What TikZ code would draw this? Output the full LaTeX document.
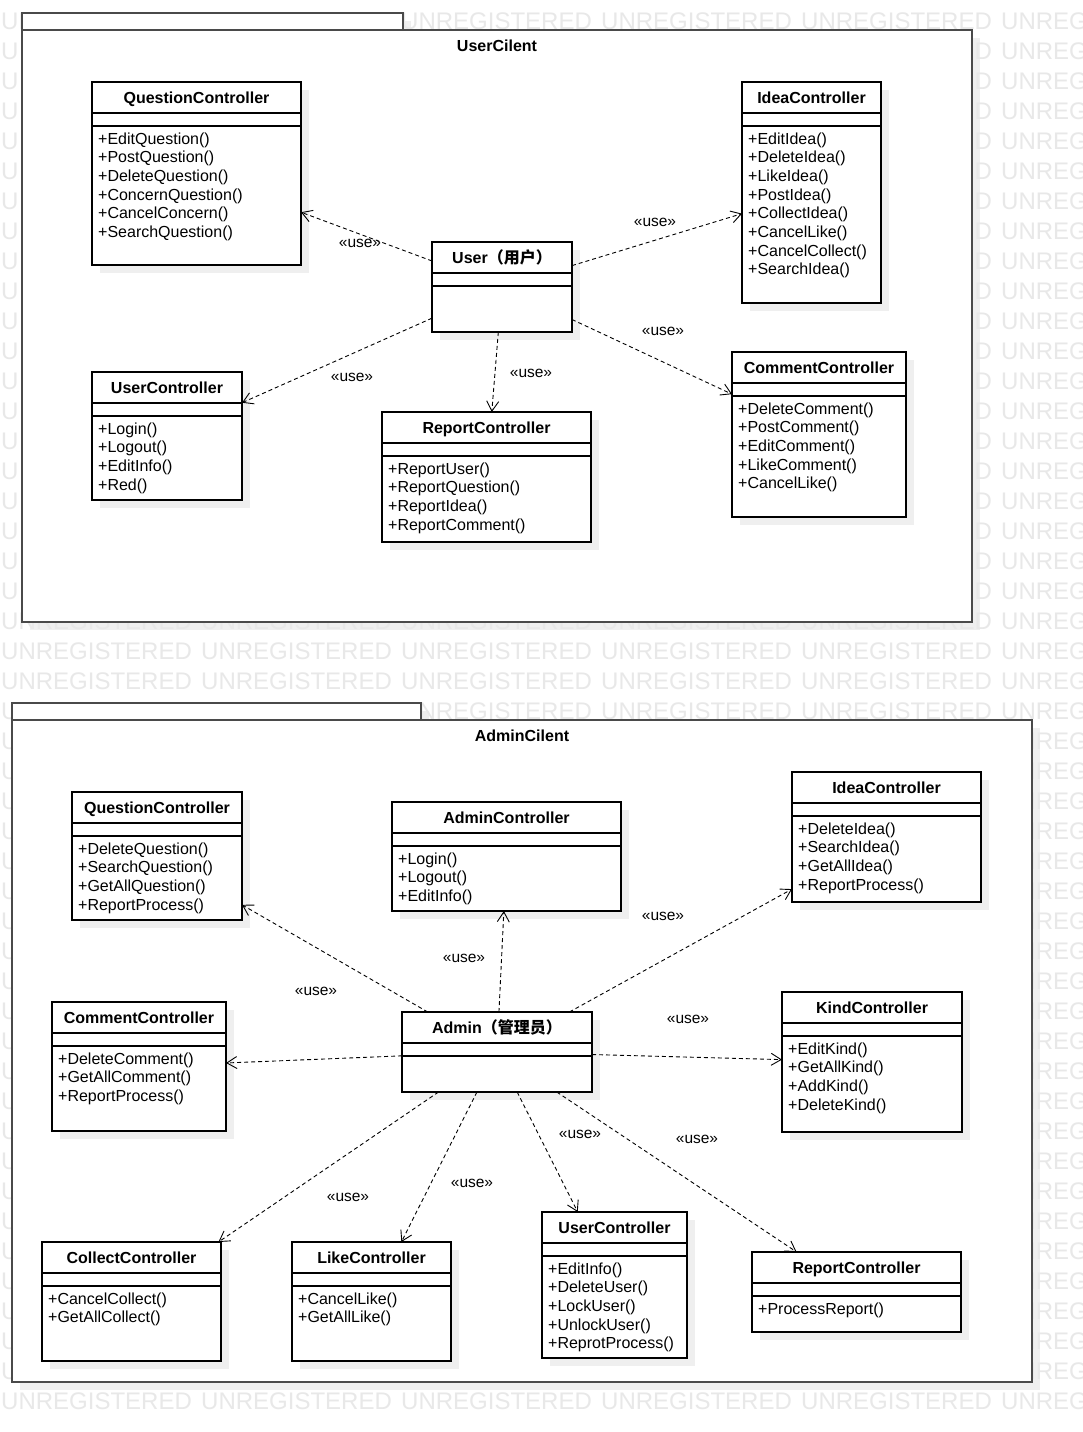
\documentclass[tikz,border=0pt]{standalone}
\usepackage{fontspec}
\setmainfont{Liberation Sans}
\newfontfamily\cjk{Noto Sans CJK SC}
\usetikzlibrary{arrows.meta}
\definecolor{wm}{HTML}{E8E8E8}
\definecolor{shd}{HTML}{EFEFEF}
\definecolor{pkg}{HTML}{4A4A4A}
\tikzset{
 cls/.style={draw=black, line width=1.2pt, fill=white, rectangle, inner sep=0pt, outer sep=0pt},
 ttl/.style={font=\fontsize{16}{19}\selectfont\bfseries, inner sep=0pt, anchor=base},
 mth/.style={font=\fontsize{16}{19}\selectfont, inner sep=0pt, anchor=base west},
 lbl/.style={font=\fontsize{15.5}{18}\selectfont, inner sep=0pt},
 dep/.style={draw=black, line width=0.9pt, dash pattern=on 4pt off 3pt, -{Straight Barb[length=10pt,width=12pt,line width=0.9pt]}},
 pkgline/.style={draw=pkg, line width=1.6pt, fill=white},
 wmtext/.style={text=wm, font=\fontsize{24}{24}\selectfont, inner sep=0pt, anchor=base west},
}
\newcommand\umlclass[7]{%
 \fill[shd] (#2+8,#3+8) rectangle ++(#4,#5);
 \node[cls, minimum width=#4, minimum height=#5, anchor=north west] (#1) at (#2,#3) {};
 \draw[line width=1.2pt] (#2,#3+31) -- ++(#4,0) (#2,#3+44) -- ++(#4,0);
 \node[ttl] (#1-t) at (#2+#4/2,#3+21.3) {#6};
 \foreach \m [count=\i from 0] in {#7} {\node[mth] (#1-m\i) at (#2+6,#3+62+18.7*\i) {\m};}
}
\newcommand\umlactor[6]{%
 \fill[shd] (#2+8,#3+8) rectangle ++(#4,#5);
 \node[cls, minimum width=#4, minimum height=#5, anchor=north west] (#1) at (#2,#3) {};
 \draw[line width=1.2pt] (#2,#3+31) -- ++(#4,0) (#2,#3+44) -- ++(#4,0);
 \node[ttl] (#1-t) at (#2+#4/2,#3+21.3) {#6};
}
\newcommand\wmrows[2]{%
 \foreach \r in {#1} {\foreach \c in {#2} {\node[wmtext] (wm-\r-\c) at (200*\c+1,29.5+30*\r) {UNREGISTERED};}}
}
\begin{document}
\begin{tikzpicture}[x=1pt,y=-1pt]
\useasboundingbox (0,0) rectangle (1082,1432);
\fill[white] (0,0) rectangle (1082,1432);
% package shadows
\fill[shd] (30,21) rectangle (411,38);
\fill[shd] (30,38) rectangle (980,630);
\fill[shd] (20,711) rectangle (429,728);
\fill[shd] (20,728) rectangle (1040,1390);
% watermark (only the parts that are not hidden behind the packages)
\begin{scope}
\clip (0,0) rectangle (1082,1432);
\wmrows{0}{0,2,3,4,5}
\foreach \r in {1,...,19} {
  \node[wmtext] (wmu-\r) at (1,29.5+30*\r) {U};
  \node[wmtext] (wmd-\r) at (974.4,29.5+30*\r) {D};
}
\wmrows{1,...,19}{5}
\wmrows{20,21,22}{0,1,2,3,4,5}
\wmrows{23}{0,2,3,4,5}
\foreach \r in {24,...,45} {\node[wmtext] (wmu-\r) at (1,29.5+30*\r) {U};}
\wmrows{24,...,45}{5}
\wmrows{46}{0,1,2,3,4,5}
\end{scope}
% packages
\draw[pkgline] (22,13) rectangle (403,30);
\draw[pkgline] (22,30) rectangle (972,622);
\node[ttl] (pkgU) at (497,51.7) {UserCilent};
\draw[pkgline] (12,703) rectangle (421,720);
\draw[pkgline] (12,720) rectangle (1032,1382);
\node[ttl] (pkgA) at (522,741.7) {AdminCilent};
% top classes
\umlclass{qc1}{92}{82}{209}{183}{QuestionController}{+EditQuestion(),+PostQuestion(),+DeleteQuestion(),+ConcernQuestion(),+CancelConcern(),+SearchQuestion()}
\umlclass{ic1}{742}{82}{139}{221}{IdeaController}{+EditIdea(),+DeleteIdea(),+LikeIdea(),+PostIdea(),+CollectIdea(),+CancelLike(),+CancelCollect(),+SearchIdea()}
\umlactor{user}{432}{242}{140}{90}{User{\cjk （用户）}}
\umlclass{uc1}{92}{372}{150}{128}{UserController}{+Login(),+Logout(),+EditInfo(),+Red()}
\umlclass{rc1}{382}{412}{209}{130}{ReportController}{+ReportUser(),+ReportQuestion(),+ReportIdea(),+ReportComment()}
\umlclass{cc1}{732}{352}{174}{165}{CommentController}{+DeleteComment(),+PostComment(),+EditComment(),+LikeComment(),+CancelLike()}
% top dependencies
\draw[dep] (user) -- (qc1);
\draw[dep] (user) -- (ic1);
\draw[dep] (user) -- (uc1);
\draw[dep] (user) -- (rc1);
\draw[dep] (user) -- (cc1);
\node[lbl] (lu1) at (360,243) {«use»};
\node[lbl] (lu2) at (655,222) {«use»};
\node[lbl] (lu3) at (352,377) {«use»};
\node[lbl] (lu4) at (531,373) {«use»};
\node[lbl] (lu5) at (663,331) {«use»};
% bottom classes
\umlclass{qc2}{72}{792}{170}{128}{QuestionController}{+DeleteQuestion(),+SearchQuestion(),+GetAllQuestion(),+ReportProcess()}
\umlclass{ac2}{392}{802}{229}{109}{AdminController}{+Login(),+Logout(),+EditInfo()}
\umlclass{ic2}{792}{772}{189}{130}{IdeaController}{+DeleteIdea(),+SearchIdea(),+GetAllIdea(),+ReportProcess()}
\umlclass{cc2}{52}{1002}{174}{129}{CommentController}{+DeleteComment(),+GetAllComment(),+ReportProcess()}
\umlactor{admin}{402}{1012}{190}{80}{Admin{\cjk （管理员）}}
\umlclass{kc2}{782}{992}{180}{140}{KindController}{+EditKind(),+GetAllKind(),+AddKind(),+DeleteKind()}
\umlclass{col2}{42}{1242}{179}{119}{CollectController}{+CancelCollect(),+GetAllCollect()}
\umlclass{lc2}{292}{1242}{159}{119}{LikeController}{+CancelLike(),+GetAllLike()}
\umlclass{uc2}{542}{1212}{145}{146}{UserController}{+EditInfo(),+DeleteUser(),+LockUser(),+UnlockUser(),+ReprotProcess()}
\umlclass{rc2}{752}{1252}{209}{80}{ReportController}{+ProcessReport()}
% bottom dependencies
\draw[dep] (admin) -- (qc2);
\draw[dep] (admin) -- (ac2);
\draw[dep] (admin) -- (ic2);
\draw[dep] (admin) -- (cc2);
\draw[dep] (admin) -- (kc2);
\draw[dep] (admin) -- (col2);
\draw[dep] (admin) -- (lc2);
\draw[dep] (admin) -- (uc2);
\draw[dep] (admin) -- (rc2);
\node[lbl] (la1) at (316,991) {«use»};
\node[lbl] (la2) at (464,958) {«use»};
\node[lbl] (la3) at (663,916) {«use»};
\node[lbl] (la4) at (688,1019) {«use»};
\node[lbl] (la5) at (348,1197) {«use»};
\node[lbl] (la6) at (472,1183) {«use»};
\node[lbl] (la7) at (580,1134) {«use»};
\node[lbl] (la8) at (697,1139) {«use»};
\end{tikzpicture}
\end{document}
